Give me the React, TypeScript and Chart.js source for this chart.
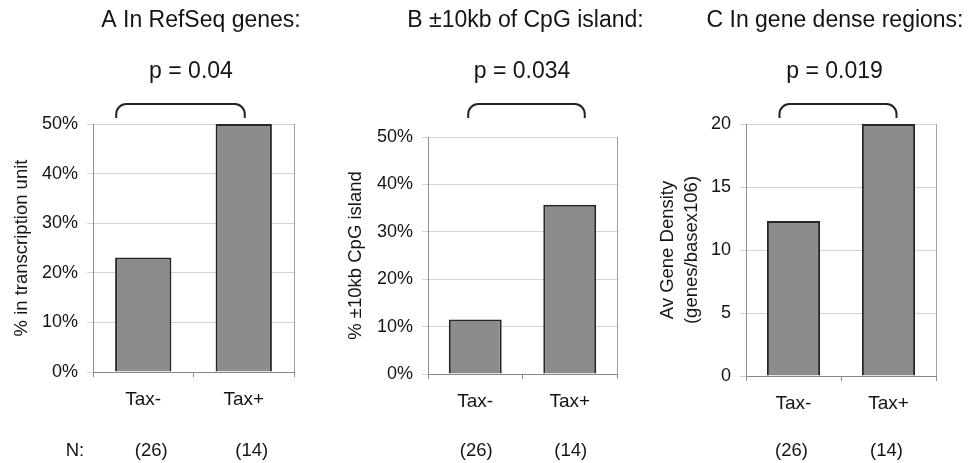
import React, { useEffect, useRef } from "react";
import { Chart, registerables } from "chart.js";

Chart.register(...registerables);

// ---- data ----
const categories = ["Tax-", "Tax+"];
const nCounts = ["(26)", "(14)"];
const refSeqPct = [23.1, 50];
const cpgPct = [11.5, 35.7];
const geneDensity = [12.3, 20];
const pValues = ["p = 0.04", "p = 0.034", "p = 0.019"];
const panelTitles = ["A In RefSeq genes:", "B \u00b110kb of CpG island:", "C In gene dense regions:"];
const yTitles: (string | string[])[] = [
  "% in transcription unit",
  "% \u00b110kb CpG island",
  ["Av Gene Density", "(genes/basex106)"],
];

const FONT = "'Liberation Sans', Arial, Helvetica, sans-serif";
const TEXT = "#141414";

type Panel = {
  left: number;
  width: number;
  values: number[];
  max: number;
  step: number;
  pct: boolean;
  title: string;
  titleX: number;
  pText: string;
  pX: number;
  yTitle: string | string[];
  yTitlePad: number;
  padTop: number;
  yWidth: number;
  padRight: number;
  xHeight: number;
  bracket: [number, number];
  nOffset: number;
  showN: boolean;
};

const panels: Panel[] = [
  {
    left: 0, width: 330, values: refSeqPct, max: 50, step: 10, pct: true,
    title: panelTitles[0], titleX: 201, pText: pValues[0], pX: 191,
    yTitle: yTitles[0], yTitlePad: 10, padTop: 124, yWidth: 93, padRight: 36, xHeight: 91,
    bracket: [-27, 1], nOffset: 8, showN: true,
  },
  {
    left: 330, width: 320, values: cpgPct, max: 50, step: 10, pct: true,
    title: panelTitles[1], titleX: 195.5, pText: pValues[1], pX: 192,
    yTitle: yTitles[1], yTitlePad: 14, padTop: 137, yWidth: 98, padRight: 33, xHeight: 89,
    bracket: [-7, 15], nOffset: 1, showN: false,
  },
  {
    left: 650, width: 322, values: geneDensity, max: 20, step: 5, pct: false,
    title: panelTitles[2], titleX: 185, pText: pValues[2], pX: 184.5,
    yTitle: yTitles[2], yTitlePad: 6, padTop: 124, yWidth: 96, padRight: 36, xHeight: 87,
    bracket: [-14, 8], nOffset: -2, showN: false,
  },
];

const HEIGHT = 463;

function PanelChart({ p }: { p: Panel }) {
  const ref = useRef<HTMLCanvasElement | null>(null);
  useEffect(() => {
    if (!ref.current) return;
    const overlay = {
      id: "overlay",
      afterDraw(chart: any) {
        const ctx = chart.ctx;
        const area = chart.chartArea;
        const xs = chart.scales.x;
        ctx.save();
        // plot box (right edge)
        ctx.strokeStyle = "#a0a0a0";
        ctx.lineWidth = 1;
        ctx.beginPath();
        ctx.moveTo(Math.round(area.right) + 0.5, area.top);
        ctx.lineTo(Math.round(area.right) + 0.5, area.bottom);
        ctx.stroke();

        // titles
        ctx.fillStyle = TEXT;
        ctx.textAlign = "center";
        ctx.textBaseline = "alphabetic";
        ctx.font = `23px ${FONT}`;
        ctx.fillText(p.title, p.titleX, 27);
        ctx.fillText(p.pText, p.pX, 78);

        // bracket
        const x1 = xs.getPixelForValue(0) + p.bracket[0];
        const x2 = xs.getPixelForValue(1) + p.bracket[1];
        const yTop = 104;
        const yBot = 118;
        const r = 10;
        ctx.strokeStyle = "#222222";
        ctx.lineWidth = 2;
        ctx.beginPath();
        ctx.moveTo(x1, yBot);
        ctx.lineTo(x1, yTop + r);
        ctx.arcTo(x1, yTop, x1 + r, yTop, r);
        ctx.lineTo(x2 - r, yTop);
        ctx.arcTo(x2, yTop, x2, yTop + r, r);
        ctx.lineTo(x2, yBot);
        ctx.stroke();

        // N counts
        ctx.font = `18.5px ${FONT}`;
        ctx.fillStyle = TEXT;
        nCounts.forEach((t, i) => {
          ctx.fillText(t, xs.getPixelForValue(i) + p.nOffset, 456);
        });
        if (p.showN) ctx.fillText("N:", 75, 456);
        ctx.restore();
      },
    };

    const chart = new Chart(ref.current, {
      type: "bar",
      data: {
        labels: categories,
        datasets: [
          {
            data: p.values,
            backgroundColor: "#8c8c8c",
            borderColor: "#262626",
            borderWidth: 2,
            barPercentage: 0.56,
            categoryPercentage: 1,
          },
        ],
      },
      options: {
        responsive: false,
        animation: false,
        layout: { padding: { top: p.padTop, right: p.padRight, left: 0, bottom: 0 } },
        plugins: {
          legend: { display: false },
          tooltip: { enabled: false },
          title: { display: false },
        },
        scales: {
          x: {
            grid: {
              display: true,
              drawOnChartArea: false,
              drawTicks: true,
              tickLength: 5,
              offset: true,
              color: "#909090",
            },
            border: { color: "#888888", width: 1 },
            ticks: { font: { family: FONT, size: 19 }, color: TEXT, padding: 11 },
            afterFit: (s: any) => {
              s.height = p.xHeight;
            },
          },
          y: {
            min: 0,
            max: p.max,
            ticks: {
              stepSize: p.step,
              font: { family: FONT, size: 18 },
              color: TEXT,
              padding: 9,
              callback: (v: any) => (p.pct ? `${v}%` : `${v}`),
            },
            grid: { color: "#d2d2d2", tickLength: 6 },
            border: { color: "#909090", width: 1 },
            title: {
              display: true,
              text: p.yTitle as any,
              font: { family: FONT, size: 18.5, lineHeight: 1.3 },
              color: TEXT,
              padding: { top: p.yTitlePad, bottom: 0 },
            },
            afterFit: (s: any) => {
              s.width = p.yWidth;
            },
          },
        },
      },
      plugins: [overlay],
    });
    return () => chart.destroy();
  }, [p]);

  return (
    <div style={{ position: "absolute", left: p.left, top: 0, width: p.width, height: HEIGHT }}>
      <canvas ref={ref} width={p.width} height={HEIGHT} style={{ display: "block" }} />
    </div>
  );
}

export default function App() {
  return (
    <div
      style={{
        position: "absolute",
        left: 0,
        top: 0,
        width: 972,
        height: HEIGHT,
        background: "#ffffff",
        overflow: "hidden",
      }}
    >
      {panels.map((p, i) => (
        <PanelChart key={i} p={p} />
      ))}
    </div>
  );
}
